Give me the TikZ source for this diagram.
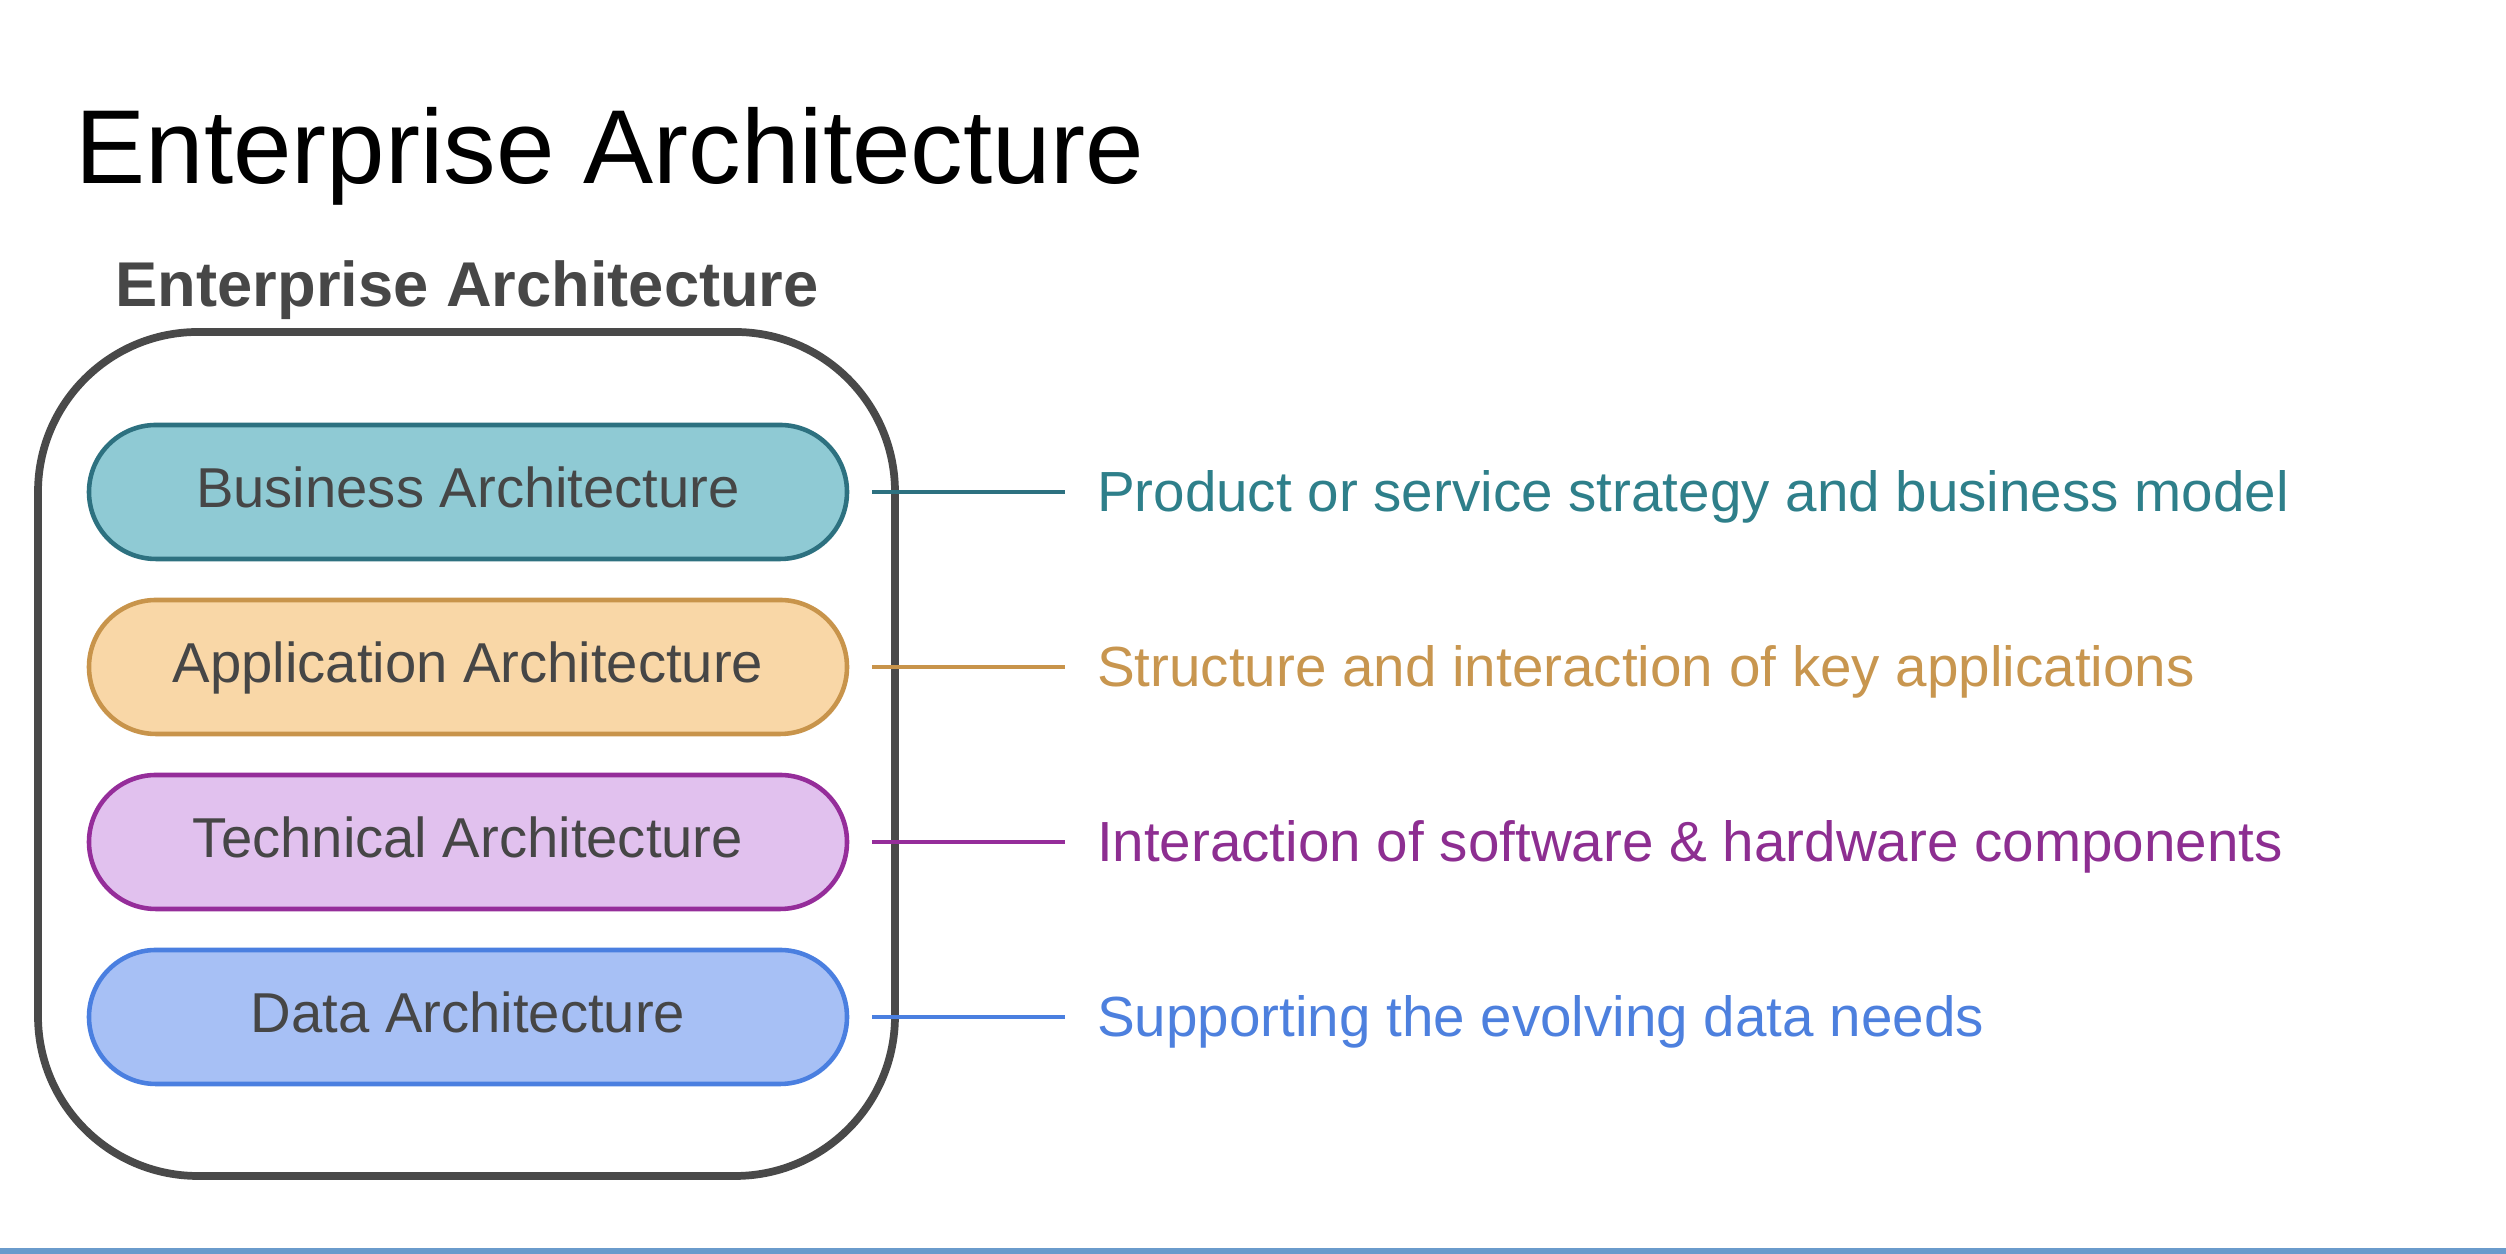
\documentclass[tikz,border=0pt]{standalone}
\usepackage{fontspec}
\setmainfont{Liberation Sans}
\usetikzlibrary{calc, positioning}

\definecolor{outerline}{HTML}{494949}
\definecolor{subtitle}{HTML}{474747}
\definecolor{layertext}{HTML}{464646}
\definecolor{bizfill}{HTML}{8FCAD4}
\definecolor{bizline}{HTML}{2D7180}
\definecolor{biztext}{HTML}{2E7F8A}
\definecolor{appfill}{HTML}{F9D7A7}
\definecolor{appline}{HTML}{C8944B}
\definecolor{apptext}{HTML}{C8964F}
\definecolor{techfill}{HTML}{E1C1EE}
\definecolor{techline}{HTML}{952D9A}
\definecolor{techtext}{HTML}{8D2E91}
\definecolor{datafill}{HTML}{A7C0F5}
\definecolor{dataline}{HTML}{4A7FE0}
\definecolor{datatext}{HTML}{4D80DE}
\definecolor{footline}{HTML}{6A9BCC}

\begin{document}
\begin{tikzpicture}[node distance=1.75cm]
		\tikzstyle{layer} = [draw, line width=1.3pt, rounded corners=0.67cm, minimum width=7.58cm, minimum height=1.34cm, inner sep=0pt, text height=0.9em, text depth=0pt, text=layertext, font=\fontsize{16}{19}\selectfont]
		\tikzstyle{desc} = [anchor=base west, inner sep=0pt, font=\fontsize{16.1}{19}\selectfont]
		\tikzstyle{link} = [line width=1.4pt]

		\useasboundingbox (0,0) rectangle (25.06,12.54);
		\fill[footline] (0,0) rectangle (25.06,0.06);

		\node[anchor=base west, inner sep=0pt, font=\fontsize{29.9}{36}\selectfont] (title) at (0.75,10.70) {Enterprise Architecture};
		\node[anchor=base west, inner sep=0pt, text=subtitle, font=\bfseries\fontsize{18}{22}\selectfont] (subtitle) at (1.15,9.47) {Enterprise Architecture};

		\node[draw=outerline, line width=2.2pt, rounded corners=1.6cm, minimum width=8.57cm, minimum height=8.44cm] (ea) at (4.665,5.0) {};

		\node[layer, fill=bizfill, draw=bizline] (business) at (4.68,7.62) {Business Architecture};
		\node[layer, fill=appfill, draw=appline, below of=business] (application) {Application Architecture};
		\node[layer, fill=techfill, draw=techline, below of=application] (technical) {Technical Architecture};
		\node[layer, fill=datafill, draw=dataline, below of=technical] (data) {Data Architecture};

		\coordinate (bizstart) at ($(business.east)+(0.23,0)$);
		\coordinate (bizend) at ($(bizstart)+(1.93,0)$);
		\node[desc, text=biztext] (bizdesc) at ($(bizend)+(0.31,-0.2)$) {Product or service strategy and business model};

		\coordinate (appstart) at ($(application.east)+(0.23,0)$);
		\coordinate (append) at ($(appstart)+(1.93,0)$);
		\node[desc, text=apptext] (appdesc) at ($(append)+(0.31,-0.2)$) {Structure and interaction of key applications};

		\coordinate (techstart) at ($(technical.east)+(0.23,0)$);
		\coordinate (techend) at ($(techstart)+(1.93,0)$);
		\node[desc, text=techtext] (techdesc) at ($(techend)+(0.31,-0.2)$) {Interaction of software \& hardware components};

		\coordinate (datastart) at ($(data.east)+(0.23,0)$);
		\coordinate (dataend) at ($(datastart)+(1.93,0)$);
		\node[desc, text=datatext] (datadesc) at ($(dataend)+(0.31,-0.2)$) {Supporting the evolving data needs};

		\draw[link, draw=bizline] (bizstart) -- (bizend);
		\draw[link, draw=appline] (appstart) -- (append);
		\draw[link, draw=techline] (techstart) -- (techend);
		\draw[link, draw=dataline] (datastart) -- (dataend);
	\end{tikzpicture}
\end{document}
